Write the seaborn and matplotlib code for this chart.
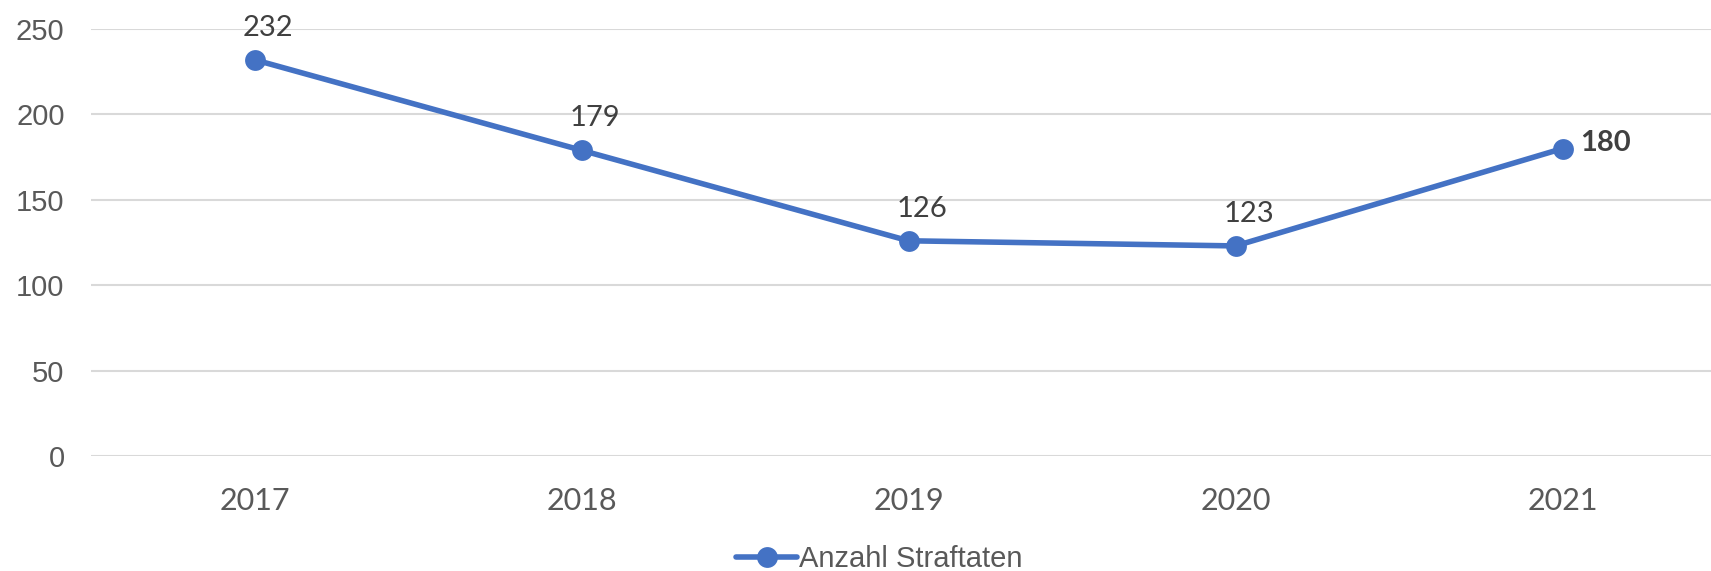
import numpy as np
import pandas as pd
import matplotlib
matplotlib.use("Agg")
import matplotlib.pyplot as plt
import seaborn as sns

years = ["2017", "2018", "2019", "2020", "2021"]
values = [232, 179, 126, 123, 180]
series_name = "Anzahl Straftaten"

sns.set_theme(style="white")
plt.rcParams["font.family"] = ["Liberation Sans", "DejaVu Sans"]

df = pd.DataFrame({"Jahr": years, "Anzahl": values})
blue = "#4472C4"

fig = plt.figure(figsize=(17.11, 5.71), dpi=100)
ax = fig.add_axes([91 / 1711, 115 / 571, 1635 / 1711, 427 / 571])

sns.lineplot(data=df, x="Jahr", y="Anzahl", ax=ax, color=blue, marker="o",
             markersize=15, linewidth=4, markeredgewidth=0, label=series_name,
             sort=False)

ax.set_xlim(-0.5, 4.5)
ax.set_ylim(0, 250)
ax.set_yticks(np.arange(0, 251, 50))
ax.yaxis.grid(True, color="#d9d9d9", linewidth=1.5)
ax.set_axisbelow(True)
for s in ax.spines.values():
    s.set_visible(False)
ax.set_xlabel("")
ax.set_ylabel("")
ax.tick_params(axis="y", length=0, pad=19, labelsize=21, labelcolor="#595959")
ax.tick_params(axis="x", length=0, pad=22, labelsize=20, labelcolor="#595959")
for t in ax.get_xticklabels():
    t.set_fontfamily(["Lato", "DejaVu Sans"])
    t.set_fontsize(22)

for i, v in enumerate(values):
    if i == len(values) - 1:
        ax.annotate(str(v), (i, v), xytext=(13, 4), textcoords="offset points",
                    ha="left", va="center", fontsize=21, fontweight="bold",
                    color="#404040", family=["Lato", "DejaVu Sans"])
    else:
        ax.annotate(str(v), (i, v), xytext=(10, 23), textcoords="offset points",
                    ha="center", va="center", fontsize=21,
                    color="#404040", family=["Lato", "DejaVu Sans"])

ax.get_legend().remove()
fig.legend(loc="center", bbox_to_anchor=(879 / 1711, 12 / 571), frameon=False,
           fontsize=21, labelcolor="#595959", handlelength=2.1, handletextpad=0.05)

fig.savefig("out.png", dpi=100)
